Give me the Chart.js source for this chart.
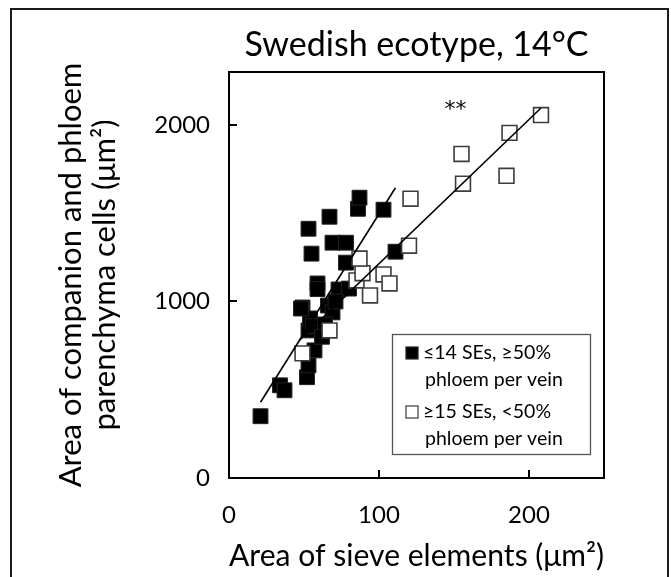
<!DOCTYPE html>
<html>
<head>
<meta charset="utf-8">
<script src="https://cdn.jsdelivr.net/npm/chart.js@4.4.0/dist/chart.umd.min.js"></script>
<style>
  html, body { margin: 0; padding: 0; background: #fff; }
  #wrap { position: relative; width: 671px; height: 577px; overflow: hidden; }
  #frame { position: absolute; left: 10px; top: 8px; width: 659px; height: 620px; border: 2px solid #1a1a1a; box-sizing: border-box; }
  #chart { position: absolute; left: 0; top: 0; }
</style>
</head>
<body>
<div id="wrap">
  <div id="frame"></div>
  <canvas id="chart" width="671" height="577"></canvas>
</div>
<script>
// values
const filledX = [21, 34, 37, 52, 53, 57, 53, 49, 54, 56, 66, 69, 64, 59, 59, 73, 80, 78, 55, 69, 78, 53, 67, 86, 87, 103, 111, 62, 71, 48];
const filledY = [350, 525, 497, 571, 638, 723, 836, 966, 904, 860, 977, 938, 870, 1102, 1070, 1068, 1073, 1220, 1271, 1333, 1333, 1412, 1480, 1525, 1588, 1520, 1282, 800, 1000, 960];
const openX = [49, 67, 85, 89, 87, 94, 103, 107, 120, 121, 155, 156, 185, 187, 208];
const openY = [706, 836, 1119, 1160, 1243, 1034, 1153, 1102, 1316, 1582, 1836, 1667, 1712, 1955, 2056];

// regression lines (end points)
const fitFilledX = [21, 111];
const fitFilledY = [429, 1644];
const fitOpenX = [47, 208];
const fitOpenY = [781, 2096];

const xTicks = [0, 100, 200];
const yTicks = [0, 1000, 2000];
const legendText = [['≤14 SEs, ≥50%', 'phloem per vein'], ['≥15 SEs, <50%', 'phloem per vein']];
const starsText = '**';
const starsAt = [151, 2119];

const FONT = "Lato, 'Open Sans', sans-serif";

function toPoints(xs, ys) {
  return xs.map((x, i) => ({ x: x, y: ys[i] }));
}

// frame around the plot, inward ticks, legend box and the ** mark
const decorations = {
  id: 'decorations',
  afterDraw(chart) {
    const { ctx, chartArea: a, scales } = chart;
    ctx.save();
    ctx.strokeStyle = '#000';
    ctx.lineWidth = 2;
    ctx.strokeRect(a.left, a.top, a.right - a.left, a.bottom - a.top);

    ctx.beginPath();
    scales.x.ticks.forEach(t => {
      const px = Math.round(scales.x.getPixelForValue(t.value));
      ctx.moveTo(px, a.bottom);
      ctx.lineTo(px, a.bottom - 8);
    });
    scales.y.ticks.forEach(t => {
      const py = Math.round(scales.y.getPixelForValue(t.value));
      ctx.moveTo(a.left, py);
      ctx.lineTo(a.left + 8, py);
    });
    ctx.stroke();

    // ** annotation
    ctx.fillStyle = '#000';
    ctx.font = "22px 'DejaVu Sans', sans-serif";
    ctx.textAlign = 'center';
    ctx.textBaseline = 'middle';
    ctx.fillText(starsText, scales.x.getPixelForValue(starsAt[0]), scales.y.getPixelForValue(starsAt[1]) + 6);

    // legend
    const lx = 392, ly = 334, lw = 198, lh = 120;
    ctx.fillStyle = '#fff';
    ctx.fillRect(lx, ly, lw, lh);
    ctx.strokeStyle = '#555';
    ctx.lineWidth = 1.3;
    ctx.strokeRect(lx + 0.5, ly + 0.5, lw, lh);

    const ds = chart.data.datasets;
    ctx.font = '19.5px ' + FONT;
    ctx.textAlign = 'left';
    legendText.forEach((lines, i) => {
      const cy = ly + 19 + i * 59;
      ctx.fillStyle = ds[i].backgroundColor;
      ctx.strokeStyle = ds[i].borderColor;
      ctx.lineWidth = 1.2;
      ctx.fillRect(406, cy - 6, 12, 12);
      ctx.strokeRect(406, cy - 6, 12, 12);
      ctx.fillStyle = '#000';
      ctx.fillText(lines[0], 423, cy);
      ctx.fillText(lines[1], 425, cy + 27);
    });
    ctx.restore();
  }
};

new Chart(document.getElementById('chart'), {
  type: 'scatter',
  data: {
    datasets: [
      {
        label: legendText[0].join(' '),
        data: toPoints(filledX, filledY),
        pointStyle: 'rect',
        pointRadius: 10.5,
        backgroundColor: '#000',
        borderColor: '#222',
        borderWidth: 1,
        order: 2
      },
      {
        label: legendText[1].join(' '),
        data: toPoints(openX, openY),
        pointStyle: 'rect',
        pointRadius: 10.5,
        backgroundColor: '#fff',
        borderColor: '#3c3c3c',
        borderWidth: 1.6,
        order: 1
      },
      {
        type: 'line',
        label: 'fit filled',
        data: toPoints(fitFilledX, fitFilledY),
        borderColor: '#000',
        borderWidth: 1.6,
        pointRadius: 0,
        fill: false,
        order: 0
      },
      {
        type: 'line',
        label: 'fit open',
        data: toPoints(fitOpenX, fitOpenY),
        borderColor: '#000',
        borderWidth: 1.6,
        pointRadius: 0,
        fill: false,
        order: 0
      }
    ]
  },
  options: {
    responsive: false,
    animation: false,
    events: [],
    layout: { padding: { left: 0, right: 67, top: 0, bottom: 0 } },
    plugins: {
      legend: { display: false },
      tooltip: { enabled: false },
      title: {
        display: true,
        fullSize: false,
        text: 'Swedish ecotype, 14°C',
        color: '#000',
        font: { family: FONT, size: 34, weight: 'normal', lineHeight: 1.2 },
        padding: { top: 25, bottom: 6.2 }
      }
    },
    scales: {
      x: {
        type: 'linear',
        min: 0,
        max: 250,
        grid: { display: false, drawTicks: false },
        border: { display: false },
        afterBuildTicks: s => { s.ticks = xTicks.map(v => ({ value: v })); },
        afterFit: s => { s.height = 99; },
        ticks: { color: '#000', font: { family: FONT, size: 24 }, padding: 23, callback: v => String(v) },
        title: {
          display: true,
          text: 'Area of sieve elements (μm²)',
          color: '#000',
          font: { family: FONT, size: 31, lineHeight: 1.2 },
          padding: { bottom: 2 }
        }
      },
      y: {
        type: 'linear',
        min: 0,
        max: 2300,
        grid: { display: false, drawTicks: false },
        border: { display: false },
        afterBuildTicks: s => { s.ticks = yTicks.map(v => ({ value: v })); },
        afterFit: s => { s.width = 229; },
        ticks: { color: '#000', font: { family: FONT, size: 24 }, padding: 19, callback: v => String(v) },
        title: {
          display: true,
          text: ['Area of companion and phloem', 'parenchyma cells (μm²)'],
          color: '#000',
          font: { family: FONT, size: 31, lineHeight: 1.1 },
          padding: { top: 54 }
        }
      }
    }
  },
  plugins: [decorations]
});
</script>
</body>
</html>
